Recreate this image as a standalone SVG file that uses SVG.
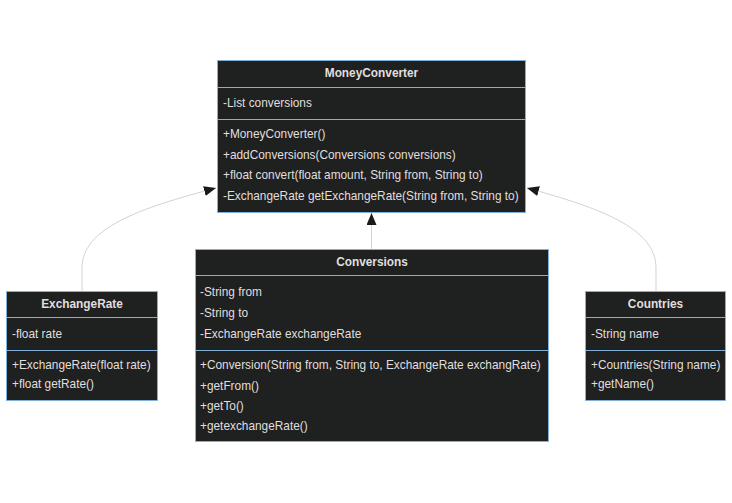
<svg xmlns="http://www.w3.org/2000/svg" width="732" height="503" viewBox="0 0 732 503">
<style>
.box{fill:#1f2020;stroke:#81B1DB;stroke-width:1}
.div{stroke:#81B1DB;stroke-width:1}
text{font-family:"Liberation Sans",Arial,sans-serif;font-size:11.85px;fill:#e0dfdf}
.title{font-weight:bold;text-anchor:middle}
.edge{fill:none;stroke:#d3d3d3;stroke-width:1}
</style>
<defs>
<marker id="tri" viewBox="0 0 12 10" refX="12" refY="5" markerWidth="12" markerHeight="10" markerUnits="userSpaceOnUse" orient="auto">
<path d="M0,0 L12,5 L0,10 Z" fill="#1a1a1a"/>
</marker>
</defs>
<rect width="732" height="503" fill="#ffffff"/>
<g id="connectors">
<path class="edge" d="M82,291 L82,268 C82,228 140,208 216,188" marker-end="url(#tri)"/>
<path class="edge" d="M371.5,249 L371.5,213" marker-end="url(#tri)"/>
<path class="edge" d="M656,291 L656,268 C656,228 600,208 527,188" marker-end="url(#tri)"/>
</g>
<g id="MoneyConverter">
<rect class="box" x="217.5" y="60.5" width="308" height="152"/>
<line class="div" x1="217.5" y1="87.5" x2="525.5" y2="87.5"/>
<line class="div" x1="217.5" y1="119.5" x2="525.5" y2="119.5"/>
<text class="title" x="371.5" y="77">MoneyConverter</text>
<text x="223" y="107">-List conversions</text>
<text x="223" y="138">+MoneyConverter()</text>
<text x="223" y="158.5">+addConversions(Conversions conversions)</text>
<text x="223" y="179">+float convert(float amount, String from, String to)</text>
<text x="223" y="199.5">-ExchangeRate getExchangeRate(String from, String to)</text>
</g>
<g id="Conversions">
<rect class="box" x="195.5" y="249.5" width="353" height="192"/>
<line class="div" x1="195.5" y1="275.5" x2="548.5" y2="275.5"/>
<line class="div" x1="195.5" y1="350.5" x2="548.5" y2="350.5"/>
<text class="title" x="372" y="266">Conversions</text>
<text x="200" y="296">-String from</text>
<text x="200" y="317">-String to</text>
<text x="200" y="338">-ExchangeRate exchangeRate</text>
<text x="200" y="369">+Conversion(String from, String to, ExchangeRate exchangRate)</text>
<text x="200" y="389.5">+getFrom()</text>
<text x="200" y="410">+getTo()</text>
<text x="200" y="430">+getexchangeRate()</text>
</g>
<g id="ExchangeRate">
<rect class="box" x="6.5" y="291.5" width="151" height="109"/>
<line class="div" x1="6.5" y1="317.5" x2="157.5" y2="317.5"/>
<line class="div" x1="6.5" y1="350.5" x2="157.5" y2="350.5"/>
<text class="title" x="82" y="308">ExchangeRate</text>
<text x="12" y="338">-float rate</text>
<text x="12" y="368.5">+ExchangeRate(float rate)</text>
<text x="12" y="388">+float getRate()</text>
</g>
<g id="Countries">
<rect class="box" x="585.5" y="291.5" width="140" height="109"/>
<line class="div" x1="585.5" y1="317.5" x2="725.5" y2="317.5"/>
<line class="div" x1="585.5" y1="350.5" x2="725.5" y2="350.5"/>
<text class="title" x="655.5" y="308">Countries</text>
<text x="591" y="338">-String name</text>
<text x="591" y="368.5">+Countries(String name)</text>
<text x="591" y="388">+getName()</text>
</g>
</svg>
